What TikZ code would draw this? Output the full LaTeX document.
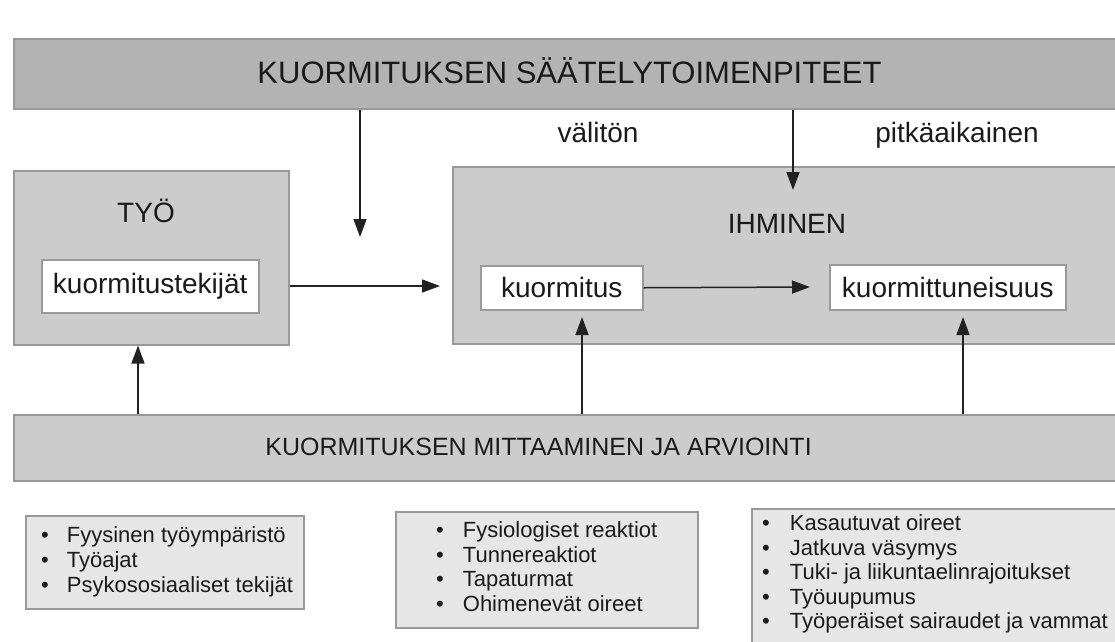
\documentclass[tikz,border=0pt]{standalone}
\usepackage{fontspec}
\setmainfont{Liberation Sans}
\usetikzlibrary{arrows.meta,calc}
\definecolor{topfill}{HTML}{B3B3B3}
\definecolor{midfill}{HTML}{CCCCCC}
\definecolor{lightfill}{HTML}{E6E6E6}
\definecolor{edge}{HTML}{999999}
\definecolor{ink}{HTML}{1A1A1A}
\definecolor{arr}{HTML}{222222}
\begin{document}
\begin{tikzpicture}[x=1pt,y=-1pt,
  box/.style={draw=edge, line width=1.5pt, rectangle, inner sep=0pt, anchor=north west, text=ink},
  lbl/.style={text=ink, inner sep=0pt, font=\fontsize{28}{33}\selectfont},
  listtxt/.style={text=ink, inner sep=0pt, anchor=north west, font=\fontsize{22}{24.5}\selectfont},
  conn/.style={draw=arr, line width=1.5pt, -{Triangle[length=18pt,width=13pt]}}
]
\useasboundingbox (0,0) rectangle (1115,641);
\clip (0,0) rectangle (1115,641);
\fill[white] (0,0) rectangle (1115,641);

% top box
\node[box, fill=topfill, minimum width=1120pt, minimum height=70pt] (top) at (13,38) {};
\node[lbl, font=\fontsize{31}{36}\selectfont, anchor=base] (toptxt) at (569.5,83.5) {KUORMITUKSEN SÄÄTELYTOIMENPITEET};

% labels above IHMINEN
\node[lbl, anchor=base] (valiton) at (598,142) {välitön};
\node[lbl, anchor=base] (pitka) at (957,142) {pitkäaikainen};

% TYÖ
\node[box, fill=midfill, minimum width=275pt, minimum height=174pt] (tyo) at (13,170) {};
\node[lbl, anchor=base] (tyotxt) at (146,222.7) {TYÖ};
\node[box, fill=white, minimum width=217pt, minimum height=53pt, font=\fontsize{28}{33}\selectfont] (kt) at (41,259) {kuormitustekijät};

% IHMINEN
\node[box, fill=midfill, minimum width=680pt, minimum height=177pt] (ihm) at (452,166) {};
\node[lbl, anchor=base] (ihmtxt) at (787,233) {IHMINEN};
\node[box, fill=white, minimum width=162pt, minimum height=44pt, font=\fontsize{28}{33}\selectfont] (kuorm) at (480,265) {kuormitus};
\node[box, fill=white, minimum width=236pt, minimum height=45pt, font=\fontsize{28}{33}\selectfont] (kuormt) at (829,264) {kuormittuneisuus};

% bottom box
\node[box, fill=midfill, minimum width=1120pt, minimum height=66pt] (bot) at (13,414) {};
\node[lbl, font=\fontsize{25}{30}\selectfont] (bottxt) at (538.5,447) {KUORMITUKSEN MITTAAMINEN JA ARVIOINTI};

% list boxes
\node[box, fill=lightfill, minimum width=278pt, minimum height=93pt] (b1) at (25,515) {};
\node[listtxt, font=\fontsize{22}{25}\selectfont] (t1) at ([xshift=16pt,yshift=-9.5pt]b1.north west) {\begin{tabular}{@{}l@{\hspace{18pt}}l@{}}•&Fyysinen työympäristö\\•&Työajat\\•&Psykososiaaliset tekijät\end{tabular}};

\node[box, fill=lightfill, minimum width=302pt, minimum height=116pt] (b2) at (395,511) {};
\node[listtxt] (t2) at ([xshift=41pt,yshift=-9.5pt]b2.north west) {\begin{tabular}{@{}l@{\hspace{19pt}}l@{}}•&Fysiologiset reaktiot\\•&Tunnereaktiot\\•&Tapaturmat\\•&Ohimenevät oireet\end{tabular}};

\node[box, fill=lightfill, minimum width=400pt, minimum height=200pt] (b3) at (751,508) {};
\node[listtxt] (t3) at ([xshift=11pt,yshift=-5.5pt]b3.north west) {\begin{tabular}{@{}l@{\hspace{20pt}}l@{}}•&Kasautuvat oireet\\•&Jatkuva väsymys\\•&Tuki- ja liikuntaelinrajoitukset\\•&Työuupumus\\•&Työperäiset sairaudet ja vammat\end{tabular}};

% connectors
\coordinate (a1end) at (360,237);
\coordinate (a2end) at (793,190);
\coordinate (a3end) at (440,286);
\coordinate (a4end) at (810,287);
\coordinate (a5x) at (138,0);
\coordinate (a6end) at (582,317);
\coordinate (a7end) at (963,317);
\draw[conn] (a1end |- top.south) -- (a1end);
\draw[conn] (a2end |- top.south) -- (a2end);
\draw[conn] (tyo.east |- a3end) -- (a3end);
\draw[conn] (kuorm.east) -- (a4end);
\draw[conn] (a5x |- bot.north) -- (a5x |- tyo.south);
\draw[conn] (a6end |- bot.north) -- (a6end);
\draw[conn] (a7end |- bot.north) -- (a7end);
\end{tikzpicture}
\end{document}
